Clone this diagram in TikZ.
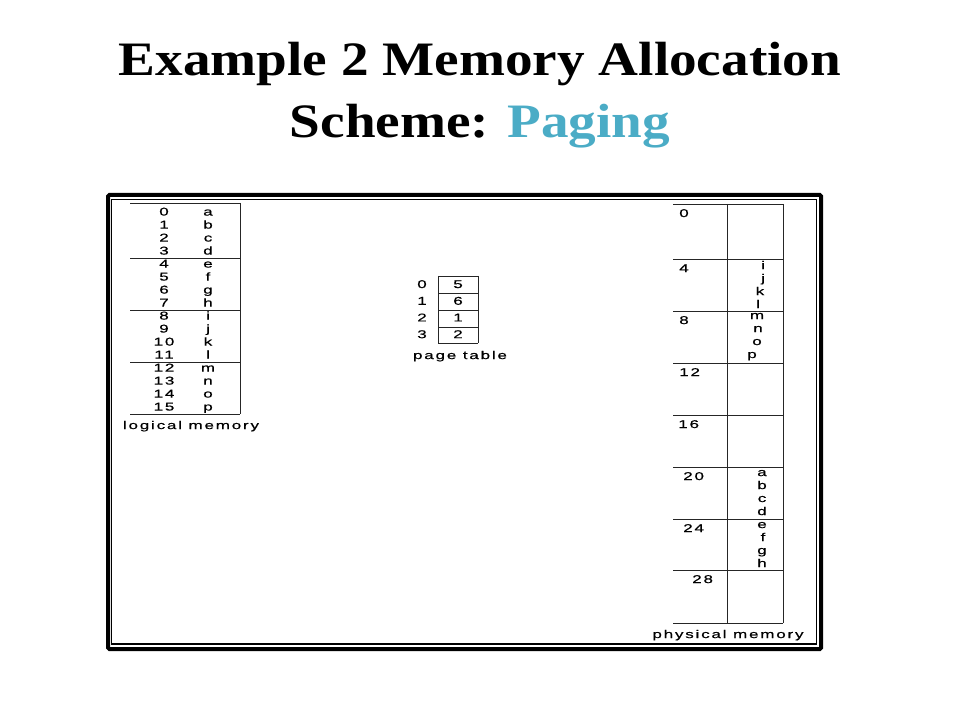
\documentclass[tikz,border=0pt]{standalone}
\usepackage{fontspec}
\setmainfont{Liberation Serif}
\newfontfamily\titlefont{Liberation Serif}[FakeStretch=1.15]
\newfontfamily\figfont{Liberation Sans}[FakeStretch=1.5,LetterSpace=16,FakeBold=0.6]
\definecolor{pagingblue}{HTML}{4BACC6}
\tikzset{
  ttl/.style={font=\titlefont\bfseries\fontsize{36}{40}\selectfont,anchor=base,inner sep=0pt},
  cell/.style={font=\figfont\fontsize{8.5}{10}\selectfont,inner sep=0pt,anchor=mid},
  rule/.style={line width=0.7pt,black!85},
}
\begin{document}
\begin{tikzpicture}[x=0.75pt,y=-0.75pt]
            \useasboundingbox (0,0) rectangle (960,720);
            \node[ttl] (ttla) at (480,75.5) {Example 2 Memory Allocation};
            \node[ttl] (ttlb) at (480,138) {Scheme: \textcolor{pagingblue}{Paging}};
            % frame
            \draw[line width=3pt,rounded corners=1pt] (108,195) rectangle (821,649);
            \draw[line width=0.9pt] (111.5,199.5) rectangle (816.5,644);
            % logical memory
            \foreach \y in {203,258,310,362,414} \draw[rule] (130,\y) -- (240,\y);
            \draw[rule] (240,203) -- (240,414);
            \foreach \c [count=\i from 0] in {a,b,c,d,e,f,g,h,i,j,k,l,m,n,o,p}{
                \node[cell] (lmn\i) at (164,{212.5+13*\i}) {\i};
                \node[cell] (lmc\i) at (208,{212.5+13*\i}) {\c};
            }
            \node[cell] (lmlabel) at (191,426) {logical memory};
            % page table
            \foreach \y in {276,293,310,327,343} \draw[rule] (438,\y) -- (478,\y);
            \draw[rule] (438,276) -- (438,343) (478,276) -- (478,343);
            \foreach \f [count=\i from 0] in {5,6,1,2}{
                \node[cell] (ptn\i) at (422,{285+16.7*\i}) {\i};
                \node[cell] (ptf\i) at (458,{285+16.7*\i}) {\f};
            }
            \node[cell] (ptlabel) at (460,356) {page table};
            % physical memory
            \foreach \y in {204,259,311,363,415,467,519,570,623} \draw[rule] (673,\y) -- (783,\y);
            \draw[rule] (727,204) -- (727,623) (783,204) -- (783,623);
            \foreach \a/\x/\y in {0/679/214,4/679/269,8/679/321,12/679/373,16/678/425,20/683/477,24/683/529,28/692/580}
                \node[cell,anchor=mid west] (pma\a) at (\x,\y) {\a};
            \foreach \c/\x/\y in {i/763/266,j/763/279,k/760/292,l/758/305,m/757/316,n/758/329,o/757/342,p/752/355,
                a/762/473,b/762/486,c/762/499,d/762/512,e/762/525,f/763/538,g/762/551,h/762/564}
                \node[cell] (pmc\c) at (\x,\y) {\c};
            \node[cell] (pmlabel) at (728,635) {physical memory};
\end{tikzpicture}
\end{document}
